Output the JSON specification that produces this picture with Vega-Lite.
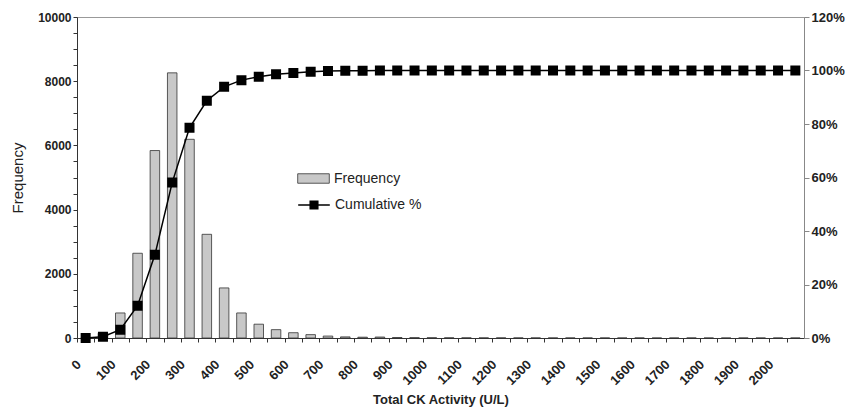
{
  "$schema": "https://vega.github.io/schema/vega-lite/v6.json",
  "autosize": "none",
  "width": 727,
  "height": 321,
  "padding": {"left": 77, "top": 17, "right": 41, "bottom": 75},
  "background": "white",
  "config": {
    "font": "Liberation Sans",
    "view": {"stroke": "#999", "strokeWidth": 1},
    "axis": {"grid": false, "labelFont": "Liberation Sans", "titleFont": "Liberation Sans"}
  },
  "data": {
    "values": [
      {"bin": 0, "freq": 0, "cum": 0.0},
      {"bin": 50, "freq": 150, "cum": 0.005},
      {"bin": 100, "freq": 780, "cum": 0.031},
      {"bin": 150, "freq": 2640, "cum": 0.121},
      {"bin": 200, "freq": 5840, "cum": 0.311},
      {"bin": 250, "freq": 8260, "cum": 0.581},
      {"bin": 300, "freq": 6190, "cum": 0.786},
      {"bin": 350, "freq": 3230, "cum": 0.887},
      {"bin": 400, "freq": 1560, "cum": 0.939},
      {"bin": 450, "freq": 780, "cum": 0.964},
      {"bin": 500, "freq": 430, "cum": 0.977},
      {"bin": 550, "freq": 260, "cum": 0.986},
      {"bin": 600, "freq": 165, "cum": 0.991},
      {"bin": 650, "freq": 105, "cum": 0.995},
      {"bin": 700, "freq": 60, "cum": 0.998},
      {"bin": 750, "freq": 35, "cum": 0.999},
      {"bin": 800, "freq": 25, "cum": 0.999},
      {"bin": 850, "freq": 30, "cum": 1.0},
      {"bin": 900, "freq": 15, "cum": 1.0},
      {"bin": 950, "freq": 10, "cum": 1.0},
      {"bin": 1000, "freq": 8, "cum": 1.0},
      {"bin": 1050, "freq": 5, "cum": 1.0},
      {"bin": 1100, "freq": 4, "cum": 1.0},
      {"bin": 1150, "freq": 3, "cum": 1.0},
      {"bin": 1200, "freq": 3, "cum": 1.0},
      {"bin": 1250, "freq": 2, "cum": 1.0},
      {"bin": 1300, "freq": 2, "cum": 1.0},
      {"bin": 1350, "freq": 1, "cum": 1.0},
      {"bin": 1400, "freq": 1, "cum": 1.0},
      {"bin": 1450, "freq": 1, "cum": 1.0},
      {"bin": 1500, "freq": 1, "cum": 1.0},
      {"bin": 1550, "freq": 0, "cum": 1.0},
      {"bin": 1600, "freq": 1, "cum": 1.0},
      {"bin": 1650, "freq": 0, "cum": 1.0},
      {"bin": 1700, "freq": 0, "cum": 1.0},
      {"bin": 1750, "freq": 1, "cum": 1.0},
      {"bin": 1800, "freq": 0, "cum": 1.0},
      {"bin": 1850, "freq": 0, "cum": 1.0},
      {"bin": 1900, "freq": 0, "cum": 1.0},
      {"bin": 1950, "freq": 0, "cum": 1.0},
      {"bin": 2000, "freq": 0, "cum": 1.0},
      {"bin": 2050, "freq": 0, "cum": 1.0}
    ]
  },
  "encoding": {
    "x": {
      "field": "bin",
      "type": "ordinal",
      "scale": {"paddingInner": 0.45, "paddingOuter": 0.225},
      "axis": {
        "title": "Total CK Activity (U/L)",
        "titleFontSize": 13,
        "titleFontWeight": "bold",
        "titleColor": "#222",
        "titlePadding": 6,
        "labelAngle": -45,
        "labelAlign": "right",
        "labelBaseline": "middle",
        "labelFontSize": 13,
        "labelFontWeight": "bold",
        "labelColor": "#222",
        "labelPadding": 20,
        "tickOffset": -8.65,
        "labelOffset": 1.65,
        "labelExpr": "datum.value % 100 == 0 ? datum.label : ''",
        "domainColor": "#333",
        "tickColor": "#333",
        "tickSize": 4
      }
    }
  },
  "layer": [
    {
      "mark": {"type": "bar", "fill": "#c8c8c8", "stroke": "#333", "strokeWidth": 0.8},
      "encoding": {
        "y": {
          "field": "freq",
          "type": "quantitative",
          "scale": {"domain": [0, 10000], "nice": false},
          "axis": {
            "title": "Frequency",
            "titleFontSize": 15,
            "titleFontWeight": "normal",
            "titleColor": "#222",
            "titlePadding": 12,
            "values": [0,500,1000,1500,2000,2500,3000,3500,4000,4500,5000,5500,6000,6500,7000,7500,8000,8500,9000,9500,10000],
            "labelExpr": "datum.value % 2000 == 0 ? format(datum.value, 'd') : ''",
            "labelFontSize": 12,
            "labelFontWeight": "bold",
            "labelColor": "#222",
            "domainColor": "#333",
            "tickColor": "#333",
            "tickSize": 4
          }
        },
        "fill": {
          "datum": "Frequency",
          "scale": {"range": ["#c8c8c8"]},
          "legend": {
            "title": null,
            "orient": "none",
            "legendX": 220,
            "legendY": 145,
            "symbolType": "M-1,-0.3H1V0.3H-1Z",
            "symbolSize": 1000,
            "symbolStrokeColor": "#333",
            "symbolStrokeWidth": 0.8,
            "labelFontSize": 14,
            "labelColor": "#222",
            "labelOffset": 4
          }
        }
      }
    },
    {
      "mark": {
        "type": "line",
        "color": "black",
        "strokeWidth": 1.5,
        "point": {"filled": true, "shape": "square", "size": 64, "color": "black"}
      },
      "encoding": {
        "y": {
          "field": "cum",
          "type": "quantitative",
          "scale": {"domain": [0, 1.2], "nice": false},
          "axis": {
            "orient": "right",
            "title": null,
            "values": [0, 0.2, 0.4, 0.6, 0.8, 1.0, 1.2],
            "format": ".0%",
            "labelFontSize": 13,
            "labelFontWeight": "bold",
            "labelColor": "#222",
            "domainColor": "#888",
            "tickColor": "#888",
            "tickSize": 5
          }
        },
        "stroke": {
          "datum": "Cumulative %",
          "scale": {"range": ["black"]},
          "legend": {
            "title": null,
            "orient": "none",
            "legendX": 220,
            "legendY": 171,
            "symbolType": "M-1,0H1M-0.24,-0.24H0.24V0.24H-0.24Z",
            "symbolSize": 1000,
            "symbolFillColor": "black",
            "symbolStrokeColor": "black",
            "symbolStrokeWidth": 1.5,
            "labelFontSize": 14,
            "labelColor": "#222",
            "labelOffset": 4
          }
        }
      }
    }
  ],
  "resolve": {"scale": {"y": "independent"}}
}
